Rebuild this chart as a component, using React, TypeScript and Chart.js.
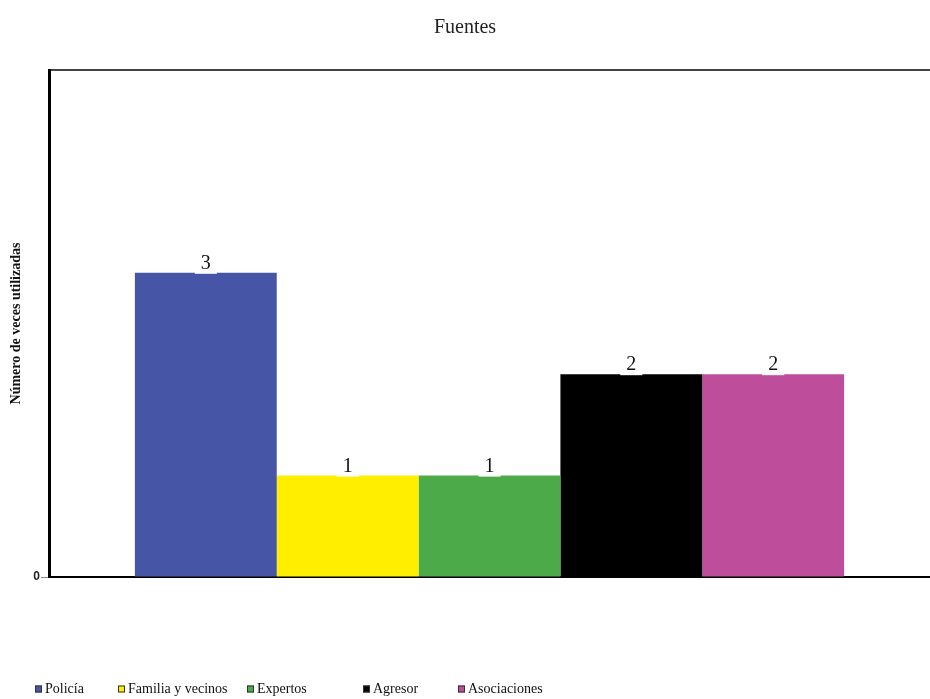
import React, { useEffect, useRef } from "react";
import { Chart, registerables } from "chart.js";

Chart.register(...registerables);

const TITLE = "Fuentes";
const Y_TITLE = "Número de veces utilizadas";
const SERIES_NAMES = ["Policía", "Familia y vecinos", "Expertos", "Agresor", "Asociaciones"];
const SERIES_VALUES = [3, 1, 1, 2, 2];
const SERIES_COLORS = ["#4655A5", "#FFEE00", "#4CAB48", "#000000", "#BE4E9B"];
const CATEGORIES = [""];
const Y_MIN = 0;
const Y_MAX = 5;

const LEGEND_X = [35, 118, 247, 363, 458];

const valueLabels = {
  id: "valueLabels",
  afterDatasetsDraw(chart: any) {
    const ctx = chart.ctx;
    ctx.save();
    ctx.font = "20px 'Liberation Serif'";
    chart.data.datasets.forEach((ds: any, i: number) => {
      const meta = chart.getDatasetMeta(i);
      meta.data.forEach((bar: any, j: number) => {
        const txt = String(ds.data[j]);
        const w = ctx.measureText(txt).width;
        ctx.fillStyle = "#ffffff";
        ctx.fillRect(bar.x - w / 2 - 6, bar.y - 22, w + 12, 23);
        ctx.fillStyle = "#111111";
        ctx.textAlign = "center";
        ctx.textBaseline = "alphabetic";
        ctx.fillText(txt, bar.x, bar.y - 4);
      });
    });
    ctx.restore();
  },
};

const customLegend = {
  id: "customLegend",
  afterDraw(chart: any) {
    const ctx = chart.ctx;
    ctx.save();
    ctx.font = "14px 'Liberation Serif'";
    ctx.textBaseline = "middle";
    ctx.textAlign = "left";
    chart.data.datasets.forEach((ds: any, i: number) => {
      const x = LEGEND_X[i];
      const yc = 689;
      ctx.fillStyle = ds.backgroundColor;
      ctx.fillRect(x, yc - 3.5, 7, 7);
      ctx.strokeStyle = "#333";
      ctx.lineWidth = 1;
      ctx.strokeRect(x + 0.5, yc - 3.5 + 0.5, 6, 6);
      ctx.fillStyle = "#111";
      ctx.fillText(ds.label, x + 10, yc);
    });
    ctx.restore();
  },
};

export default function App() {
  const ref = useRef<HTMLCanvasElement | null>(null);
  useEffect(() => {
    if (!ref.current) return;
    const chart = new Chart(ref.current, {
      type: "bar",
      data: {
        labels: CATEGORIES,
        datasets: SERIES_NAMES.map((name, i) => ({
          label: name,
          data: [SERIES_VALUES[i]],
          backgroundColor: SERIES_COLORS[i],
          borderWidth: 0,
          categoryPercentage: 0.805,
          barPercentage: 1,
        })),
      },
      options: {
        animation: false,
        responsive: false,
        devicePixelRatio: 1,
        layout: { padding: { left: 0, right: 0, top: 0, bottom: 122 } },
        plugins: {
          legend: { display: false },
          tooltip: { enabled: false },
          title: {
            display: true,
            text: TITLE,
            color: "#222",
            font: { family: "'Liberation Serif'", size: 20, weight: "normal" },
            padding: { top: 16, bottom: 30 },
          },
        },
        scales: {
          x: {
            type: "category",
            ticks: { display: false },
            grid: { display: false },
            border: { display: true, color: "#000", width: 2 },
            afterFit(scale: any) {
              scale.height = 0;
            },
          },
          y: {
            min: Y_MIN,
            max: Y_MAX,
            ticks: {
              stepSize: 1,
              color: "#222",
              padding: 1,
              font: { family: "'Liberation Sans'", size: 12, weight: "bold" },
              callback: (v: any) => (Number(v) === 0 ? "0" : ""),
            },
            grid: {
              drawOnChartArea: true,
              tickLength: 8,
              color: (c: any) => (c.tick && c.tick.value === Y_MAX ? "#444" : "rgba(0,0,0,0)"),
              lineWidth: (c: any) => (c.tick && c.tick.value === Y_MAX ? 2 : 1),
              tickColor: (c: any) => (c.tick && c.tick.value === 0 ? "#888" : "rgba(0,0,0,0)"),
            },
            border: { display: true, color: "#000", width: 3 },
            title: {
              display: true,
              text: Y_TITLE,
              color: "#111",
              font: { family: "'Liberation Serif'", size: 14, weight: "bold" },
              padding: { top: 8, bottom: 0 },
            },
            afterFit(scale: any) {
              scale.width = 49;
            },
          },
        },
      },
      plugins: [valueLabels, customLegend],
    } as any);
    return () => chart.destroy();
  }, []);
  return (
    <div style={{ position: "absolute", left: 0, top: 0, width: 930, height: 699 }}>
      <canvas ref={ref} width={930} height={699} />
    </div>
  );
}
